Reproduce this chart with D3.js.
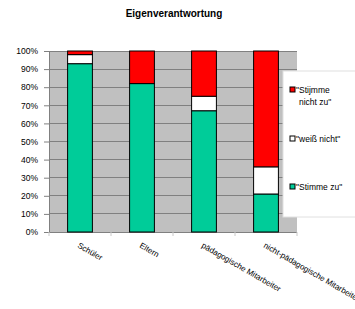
<!DOCTYPE html>
<html><head><meta charset="utf-8">
<script src="https://cdn.jsdelivr.net/npm/d3@7"></script>
<style>body{margin:0;background:#fff;}svg{display:block;font-family:"Liberation Sans",Arial,sans-serif;}</style>
</head><body>
<svg id="c" width="355" height="309"></svg>
<script>
const categories = ["Schüler", "Eltern", "pädagogische Mitarbeiter", "nicht-pädagogische Mitarbeiter"];
const stimmeZu = [93, 82, 67, 21];
const weissNicht = [5, 0, 8, 15];
const stimmeNichtZu = [2, 18, 25, 64];
const yTicks = [0,10,20,30,40,50,60,70,80,90,100];
const seriesNames = ["\"Stimme zu\"", "\"weiß nicht\"", "\"Stijmme nicht zu\""];
const colors = ["#00cc99", "#ffffff", "#ff0000"];

const svg = d3.select("#c");
const m = {l:49, r:297, t:51, b:232};
const x = d3.scaleBand().domain(categories).range([m.l, m.r]).paddingInner(0.6).paddingOuter(0.3);
const xb = d3.scaleBand().domain(categories).range([m.l, m.r]);
const y = d3.scaleLinear().domain([0,100]).range([m.b, m.t]);

svg.append("text").attr("x",174).attr("y",17).attr("text-anchor","middle")
  .attr("font-size",10).attr("font-weight","bold").attr("fill","#000").text("Eigenverantwortung");

svg.append("rect").attr("x",m.l).attr("y",m.t).attr("width",m.r-m.l).attr("height",m.b-m.t).attr("fill","#c0c0c0");

svg.append("g").selectAll("line").data(yTicks.slice(1)).join("line")
  .attr("x1",m.l).attr("x2",m.r).attr("y1",d=>y(d)).attr("y2",d=>y(d))
  .attr("stroke","#808080").attr("stroke-width",1).attr("shape-rendering","crispEdges");

const yAxis = d3.axisLeft(y).tickValues(yTicks).tickFormat(d=>d+"%").tickSize(5).tickPadding(6);
const gy = svg.append("g").attr("transform",`translate(${m.l},0)`).call(yAxis);
gy.select(".domain").attr("stroke","#808080");
gy.selectAll(".tick line").attr("stroke","#808080");
gy.selectAll("text").attr("font-size",8.5).attr("fill","#000").attr("font-family","Liberation Sans, Arial, sans-serif");

// x axis line and ticks at boundaries
svg.append("line").attr("x1",m.l).attr("x2",m.r).attr("y1",m.b+0.5).attr("y2",m.b+0.5).attr("stroke","#808080");
const bounds = categories.map(c=>xb(c)).concat([m.r]);
svg.append("g").selectAll("line").data(bounds).join("line")
  .attr("x1",d=>d).attr("x2",d=>d).attr("y1",m.b).attr("y2",m.b+4).attr("stroke","#c8c8c8");

const series = [stimmeZu, weissNicht, stimmeNichtZu];
const stacked = categories.map((c,i)=>{let acc=0; return series.map((s,k)=>{const o={c,k,y0:acc,y1:acc+s[i]}; acc+=s[i]; return o;});}).flat();
svg.append("g").selectAll("rect").data(stacked.filter(d=>d.y1>d.y0)).join("rect")
  .attr("x",d=>x(d.c)).attr("width",x.bandwidth())
  .attr("y",d=>y(d.y1)).attr("height",d=>y(d.y0)-y(d.y1))
  .attr("fill",d=>colors[d.k]).attr("stroke","#000").attr("stroke-width",1);

// x labels
svg.append("g").selectAll("text").data(categories).join("text")
  .attr("transform",d=>`translate(${xb(d)+xb.bandwidth()/2-3},${m.b+15}) rotate(30)`)
  .attr("font-size",8).attr("fill","#000").text(d=>d);

// legend
const lg = svg.append("g");
lg.append("rect").attr("x",283).attr("y",71).attr("width",80).attr("height",146)
  .attr("fill","#fff").attr("stroke","#e0e0e0");
const legendItems = [
  {k:2, lines:["\"Stijmme","nicht zu\""], y:92},
  {k:1, lines:["\"weiß nicht\""], y:141},
  {k:0, lines:["\"Stimme zu\""], y:189}
];
legendItems.forEach(it=>{
  lg.append("rect").attr("x",290).attr("y",it.y-5).attr("width",5).attr("height",5)
    .attr("fill",colors[it.k]).attr("stroke","#000").attr("stroke-width",1);
  const t = lg.append("text").attr("x",296).attr("y",it.y+1).attr("font-size",8.5).attr("fill","#000");
  it.lines.forEach((l,i)=>t.append("tspan").attr("x",i===0?296:299).attr("dy",i===0?0:12).text(l));
});
</script>
</body></html>
